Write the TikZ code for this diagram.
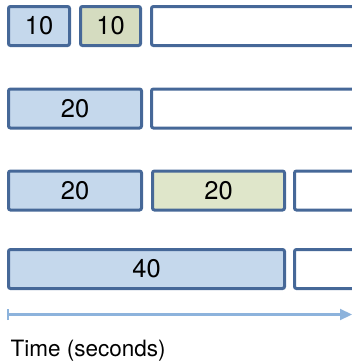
\documentclass[tikz,border=0pt]{standalone}
\usepackage{fontspec}
\setmainfont{TeX Gyre Heros}
\usetikzlibrary{arrows.meta}
\definecolor{slotedge}{RGB}{70,104,152}
\definecolor{taskblue}{RGB}{197,216,236}
\definecolor{taskgreen}{RGB}{213,220,192}
\definecolor{taskgreenlight}{RGB}{223,230,202}
\definecolor{timeblue}{RGB}{141,179,220}

\tikzset{
  slot/.style={draw=slotedge,line width=3pt,rounded corners=2pt,fill=white,
    minimum height=39pt,inner sep=0pt,font=\fontsize{25.5}{30}\selectfont},
  timeline/.style={draw=timeblue,line width=2.2pt,
    {Bar[width=11pt,line width=2pt]}-{Triangle[length=12pt,width=11pt]}}
}

\begin{document}
\begin{tikzpicture}[x=1pt,y=-1pt]
    \clip (0,0) rectangle (352,362);

    % First row: two short jobs
    \node[slot,fill=taskblue,minimum width=61pt] (a1) at (39,26) {10};
    \node[slot,fill=taskgreen,minimum width=60pt] (b1) at (110.5,26) {10};
    \node[slot,minimum width=209pt] (c1) at (256,26) {};

    % Second row
    \node[slot,fill=taskblue,minimum width=133pt] (a2) at (75,108.5) {20};
    \node[slot,minimum width=209pt] (c2) at (256,108.5) {};

    % Third row
    \node[slot,fill=taskblue,minimum width=133pt] (a3) at (75,190.5) {20};
    \node[slot,fill=taskgreenlight,minimum width=132pt] (b3) at (218.5,190.5) {20};
    \node[slot,minimum width=84pt] (c3) at (336.5,190.5) {};

    % Fourth row: one long job
    \node[slot,fill=taskblue,minimum width=276pt] (a4) at (146.5,269) {40};
    \node[slot,minimum width=84pt] (c4) at (336.5,269) {};

    % Time axis
    \coordinate (t0) at (7,314.5);
    \coordinate (t1) at (352,314.5);
    \draw[timeline] (t0) -- (t1);
    \node[anchor=base west,inner sep=0pt,font=\fontsize{22.5}{26}\selectfont] (tlabel) at (10.5,356) {Time (seconds)};
\end{tikzpicture}
\end{document}
